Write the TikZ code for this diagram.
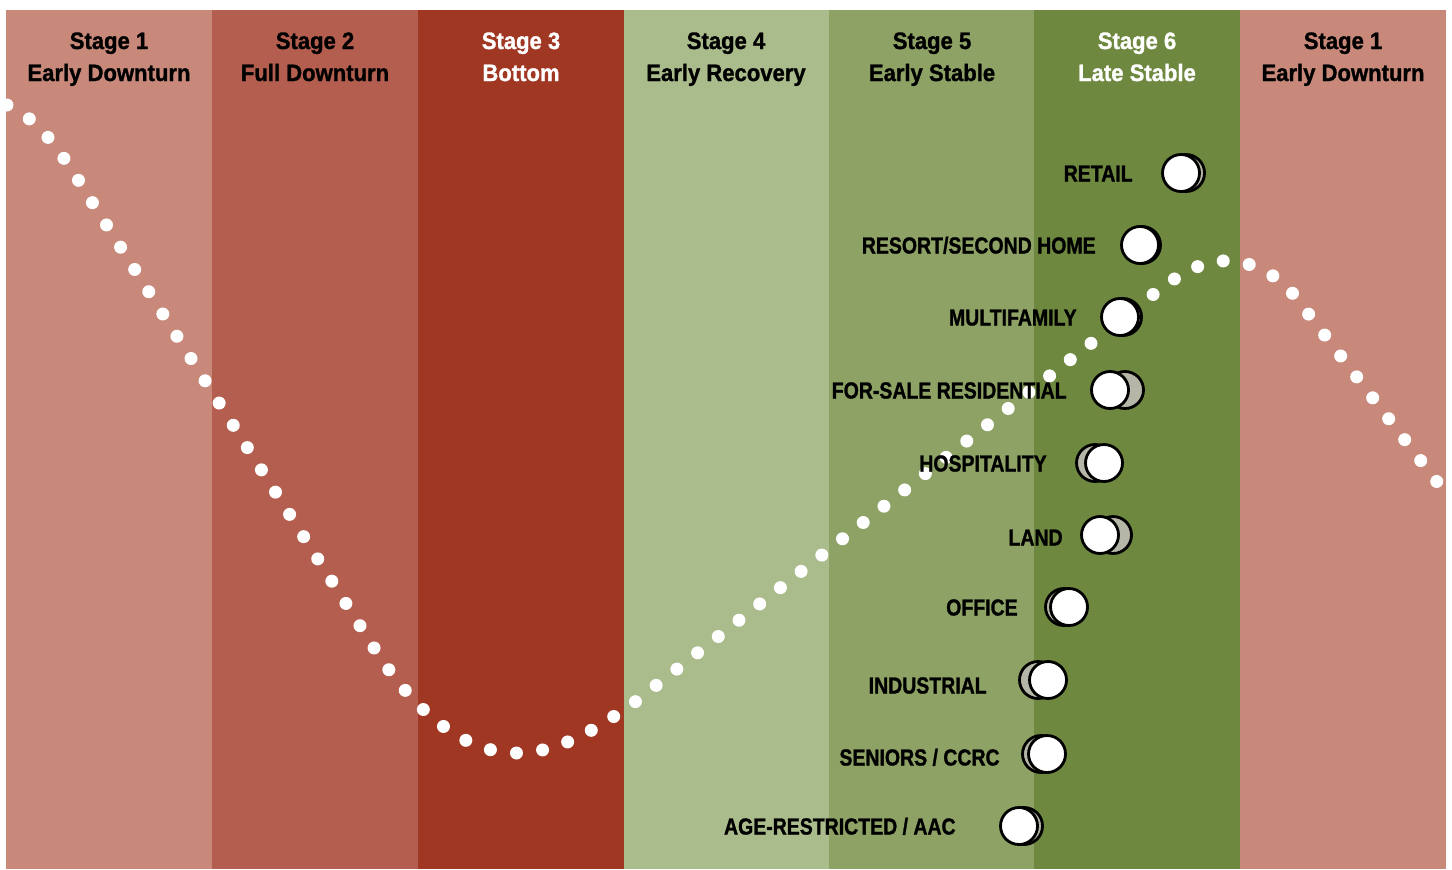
\documentclass[tikz,border=0pt]{standalone}
\usepackage{fontspec}
\setmainfont{Liberation Sans}
\newfontfamily\headfont{Liberation Sans}[FakeStretch=0.93, BoldFeatures={FakeBold=1.2}]
\newfontfamily\tagfont{Liberation Sans}[FakeStretch=0.84, BoldFeatures={FakeBold=1.2}]
\definecolor{downA}{RGB}{200,137,123}
\definecolor{downB}{RGB}{180,94,80}
\definecolor{bottomC}{RGB}{160,55,35}
\definecolor{recovD}{RGB}{170,187,140}
\definecolor{stableE}{RGB}{141,162,100}
\definecolor{stableF}{RGB}{110,137,63}
\definecolor{prior}{RGB}{182,182,168}

\begin{document}
\begin{tikzpicture}
    [
        x=0.02cm, y=-0.02cm,
        head/.style={anchor=base, inner sep=0pt, font=\headfont\bfseries\fontsize{13.5}{16}\selectfont},
        tag/.style={anchor=base east, inner sep=0pt, font=\tagfont\bfseries\fontsize{13.2}{16}\selectfont},
        now/.style={circle, draw=black, line width=1.6pt, fill=white, minimum size=0.74cm, inner sep=0pt},
        was/.style={now, fill=prior}
    ]
    \useasboundingbox (0,0) rectangle (1452,869);

    % Stage bands
    \fill[downA]   (6,10)    rectangle (212,869);
    \fill[downB]   (212,10)  rectangle (418,869);
    \fill[bottomC] (418,10)  rectangle (624,869);
    \fill[recovD]  (624,10)  rectangle (829,869);
    \fill[stableE] (829,10)  rectangle (1034,869);
    \fill[stableF] (1034,10) rectangle (1240,869);
    \fill[downA]   (1240,10) rectangle (1446,869);

    % Cycle curve
    \begin{scope}
        \clip (6,10) rectangle (1446,869);
        \draw[white, line width=0.26cm, line cap=round, dash pattern=on 0pt off 0.527cm]
            (7,105) .. controls (40,120) and (60,150) .. (92,202)
            -- (376,651)
            .. controls (422,722) and (472,754) .. (518,753)
            .. controls (560,752) and (595,730) .. (635,702)
            -- (1155,293)
            .. controls (1190,265) and (1212,260) .. (1230,261)
            .. controls (1250,262) and (1275,272) .. (1294,295)
            -- (1470,525);
    \end{scope}

    % Headers
    \node[head] (s1a) at (109,49)  {Stage 1};
    \node[head] (s1b) at (109,81)  {Early Downturn};
    \node[head] (s2a) at (315,49)  {Stage 2};
    \node[head] (s2b) at (315,81)  {Full Downturn};
    \node[head, text=white] (s3a) at (521,49) {Stage 3};
    \node[head, text=white] (s3b) at (521,81) {Bottom};
    \node[head] (s4a) at (726,49)  {Stage 4};
    \node[head] (s4b) at (726,81)  {Early Recovery};
    \node[head] (s5a) at (932,49)  {Stage 5};
    \node[head] (s5b) at (932,81)  {Early Stable};
    \node[head, text=white] (s6a) at (1137,49) {Stage 6};
    \node[head, text=white] (s6b) at (1137,81) {Late Stable};
    \node[head] (s7a) at (1343,49) {Stage 1};
    \node[head] (s7b) at (1343,81) {Early Downturn};

    % Property types
    \node[tag] (retail) at (1133,181.5) {RETAIL};
    \node[tag] (resort) at (1096,253.5) {RESORT/SECOND HOME};
    \node[tag] (multi)  at (1077,325.5) {MULTIFAMILY};
    \node[tag] (sale)   at (1067,398.5) {FOR-SALE RESIDENTIAL};
    \node[tag] (hosp)   at (1047,471.5) {HOSPITALITY};
    \node[tag] (land)   at (1063,545.5) {LAND};
    \node[tag] (office) at (1018,615.5) {OFFICE};
    \node[tag] (indus)  at (987,693.5)  {INDUSTRIAL};
    \node[tag] (senior) at (1000,765.5) {SENIORS / CCRC};
    \node[tag] (aac)    at (956,834.5)  {AGE-RESTRICTED / AAC};

    % Previous and current position
    \node[was] (retail_was) at (1186,173) {};
    \node[now] (retail_now) at (1181,173) {};
    \node[was] (resort_was) at (1142,245) {};
    \node[now] (resort_now) at (1140,245) {};
    \node[was] (multi_was)  at (1123,317) {};
    \node[now] (multi_now)  at (1120,317) {};
    \node[was] (sale_was)   at (1125,390) {};
    \node[now] (sale_now)   at (1110,390) {};
    \node[was] (hosp_was)   at (1095,463) {};
    \node[now] (hosp_now)   at (1104,463) {};
    \node[was] (land_was)   at (1113,535) {};
    \node[now] (land_now)   at (1100,535) {};
    \node[was] (office_was) at (1064,607) {};
    \node[now] (office_now) at (1069,607) {};
    \node[was] (indus_was)  at (1038,680) {};
    \node[now] (indus_now)  at (1048,680) {};
    \node[was] (senior_was) at (1041,754) {};
    \node[now] (senior_now) at (1047,754) {};
    \node[was] (aac_was)    at (1024,826) {};
    \node[now] (aac_now)    at (1019,826) {};
\end{tikzpicture}
\end{document}
